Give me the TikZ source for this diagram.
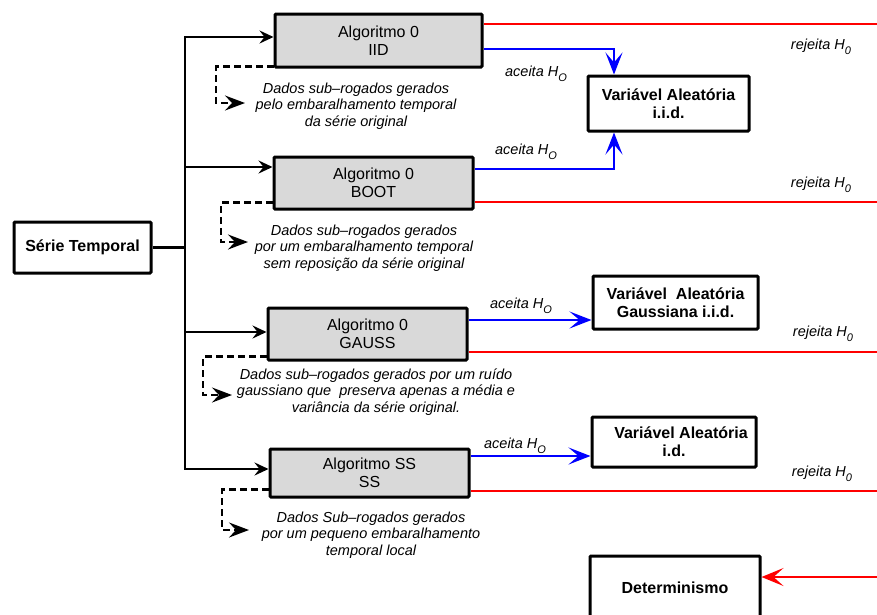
\documentclass[tikz,border=0pt]{standalone}
\usepackage{fontspec}
\setmainfont{Liberation Sans}
\usetikzlibrary{arrows.meta}
\newcommand{\hsub}[1]{\raisebox{-4.5pt}{\fontsize{11}{11}\selectfont #1}}

\begin{document}
\begin{tikzpicture}[x=1pt,y=-1pt,
	every node/.style={align=center,inner sep=0pt},
	alg/.style={draw,line width=3pt,fill=gray!30,rounded corners=1pt,font=\fontsize{16}{18}\selectfont},
	resbox/.style={draw,line width=3pt,fill=white,rounded corners=1pt,font=\fontsize{16}{18}\selectfont\bfseries},
	desc/.style={font=\fontsize{14.5}{16.5}\selectfont\itshape},
	lbl/.style={font=\fontsize{14.5}{16.5}\selectfont\itshape},
	ramo/.style={line width=2.6pt,-{Stealth[length=14pt,width=13pt,inset=5pt]}},
	dsh/.style={line width=2.2pt,dash pattern=on 7pt off 4pt,-{Stealth[length=20pt,width=15pt,inset=7pt]}},
	acc/.style={draw=blue,line width=2.4pt,-{Stealth[length=22pt,width=17pt,inset=10pt]}},
	rej/.style={draw=red,line width=2.4pt}]
	\useasboundingbox (0,0) rectangle (877,614);

	% entrada e algoritmos
	\node[resbox,minimum width=137pt,minimum height=51pt] (serie) at (82.5,247.5) {Série Temporal};
	\node[alg,minimum width=207pt,minimum height=53pt] (iid) at (378.5,40.5) {Algoritmo 0\\IID};
	\node[alg,minimum width=199pt,minimum height=52pt] (boot) at (373.5,183) {Algoritmo 0\\BOOT};
	\node[alg,minimum width=199pt,minimum height=52pt] (gauss) at (367.5,334) {Algoritmo 0\\GAUSS};
	\node[alg,minimum width=199pt,minimum height=48pt] (ss) at (369.5,473) {Algoritmo SS\\SS};

	% resultados
	\node[resbox,minimum width=161pt,minimum height=55pt] (vaiid) at (668.5,103.5) {Variável Aleatória\\i.i.d.};
	\node[resbox,minimum width=165pt,minimum height=53pt] (vagauss) at (675.5,302.5) {Variável~ Aleatória\\Gaussiana i.i.d.};
	\node[resbox,minimum width=164pt,minimum height=50pt] (vaid) at (674,442) {\hspace{14pt}Variável Aleatória\\i.d.};
	\node[resbox,minimum width=170pt,minimum height=64pt] (det) at (675,588) {Determinismo};

	% textos dos sub-rogados
	\node[desc] (d1) at (356,106) {Dados sub--rogados gerados\\pelo embaralhamento temporal\\da série original};
	\node[desc] (d2) at (364,248) {Dados sub--rogados gerados\\por um embaralhamento temporal\\sem reposição da série original};
	\node[desc] (d3) at (376,392) {Dados sub--rogados gerados por um ruído\\gaussiano que~ preserva apenas a média e\\variância da série original.};
	\node[desc] (d4) at (371,535) {Dados Sub--rogados gerados\\por um pequeno embaralhamento\\temporal local};

	% rotulos
	\node[lbl] (ac1) at (536,74) {aceita H\hsub{O}};
	\node[lbl] (ac2) at (526,152) {aceita H\hsub{O}};
	\node[lbl] (ac3) at (521,306) {aceita H\hsub{O}};
	\node[lbl] (ac4) at (515,446) {aceita H\hsub{O}};
	\node[lbl] (rj1) at (821,47) {rejeita H\hsub{0}};
	\node[lbl] (rj2) at (821,185) {rejeita H\hsub{0}};
	\node[lbl] (rj3) at (823,334) {rejeita H\hsub{0}};
	\node[lbl] (rj4) at (822,474) {rejeita H\hsub{0}};

	% tronco
	\coordinate (j1) at (185,37);
	\coordinate (j2) at (185,167);
	\coordinate (j3) at (185,332);
	\coordinate (j4) at (185,469);
	\draw[line width=2.8pt] (serie.east) -- (serie.east -| j1);
	\draw[ramo] (j4) -- (j1) -- (iid.west |- j1);
	\draw[ramo] (j1) -- (j4) -- (ss.west |- j4);
	\draw[ramo] (j2) -- (boot.west |- j2);
	\draw[ramo] (j3) -- (gauss.west |- j3);

	% setas tracejadas
	\coordinate (b1) at (216,103); \coordinate (t1) at (245,103);
	\coordinate (b2) at (221,242); \coordinate (t2) at (248,242);
	\coordinate (b3) at (203,395); \coordinate (t3) at (232,395);
	\coordinate (b4) at (222,530); \coordinate (t4) at (249,530);
	\draw[dsh] ([yshift=2pt]iid.south west) -| (b1) -- (t1);
	\draw[dsh] ([yshift=8pt]boot.south west) -| (b2) -- (t2);
	\draw[dsh] ([yshift=5pt]gauss.south west) -| (b3) -- (t3);
	\draw[dsh] ([yshift=9pt]ss.south west) -| (b4) -- (t4);

	% aceita
	\coordinate (a1) at (614,49);
	\coordinate (a2) at (614,169);
	\coordinate (a3) at (614,320);
	\coordinate (a4) at (614,456);
	\draw[acc] (iid.east |- a1) -| (vaiid.north -| a1);
	\draw[acc] (boot.east |- a2) -| (vaiid.south -| a2);
	\draw[acc] (gauss.east |- a3) -- (vagauss.west |- a3);
	\draw[acc] (ss.east |- a4) -- (vaid.west |- a4);

	% rejeita
	\coordinate (r1) at (877,24);
	\coordinate (r2) at (877,202);
	\coordinate (r3) at (877,352);
	\coordinate (r4) at (877,491);
	\coordinate (r5) at (877,577);
	\draw[rej] (iid.east |- r1) -- (r1);
	\draw[rej] (boot.east |- r2) -- (r2);
	\draw[rej] (gauss.east |- r3) -- (r3);
	\draw[rej] (ss.east |- r4) -- (r4);
	\draw[rej,-{Stealth[length=22pt,width=18pt,inset=10pt]}] (r5) -- (det.east |- r5);
\end{tikzpicture}
\end{document}
